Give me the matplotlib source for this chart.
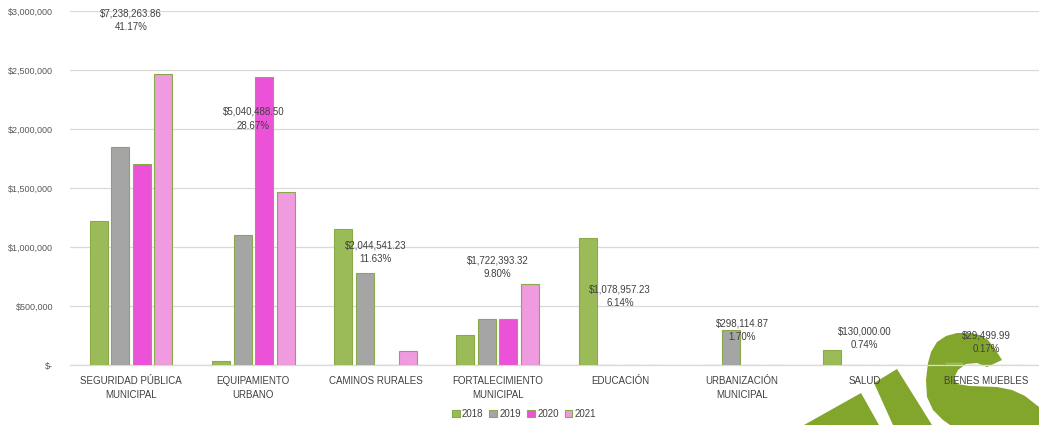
import matplotlib
matplotlib.use("Agg")
import matplotlib.pyplot as plt
from matplotlib.patches import Polygon
from matplotlib.ticker import FuncFormatter
from matplotlib import font_manager
import numpy as np

plt.rcParams['font.family'] = ['Liberation Sans', 'DejaVu Sans']

categories = ["SEGURIDAD PÚBLICA\nMUNICIPAL", "EQUIPAMIENTO\nURBANO", "CAMINOS RURALES",
              "FORTALECIMIENTO\nMUNICIPAL", "EDUCACIÓN", "URBANIZACIÓN\nMUNICIPAL",
              "SALUD", "BIENES MUEBLES"]
years = ["2018", "2019", "2020", "2021"]
v2018 = [1220000, 34000, 1150000, 257000, 1078957.23, 0, 130000, 29499.99]
v2019 = [1847000, 1102000, 777000, 390000, 0, 298114.87, 0, 0]
v2020 = [1703000, 2441000, 0, 390000, 0, 0, 0, 0]
v2021 = [2468264, 1463488, 117541, 685393, 0, 0, 0, 0]
totals = [7238263.86, 5040488.50, 2044541.23, 1722393.32, 1078957.23, 298114.87, 130000.00, 29499.99]
label_y = [2924000, 2087000, 953000, 828000, 582000, 292000, 226000, 189000]
yticks = [0, 500000, 1000000, 1500000, 2000000, 2500000, 3000000]

colors = ["#9BBB59", "#A5A5A5", "#EB52D7", "#F09BE0"]
edge = "#8AAA4A"
W, H = 1039, 425
fig = plt.figure(figsize=(W / 100, H / 100), dpi=100)

# decorative logo (behind chart)
def px(pts):
    return [(x / W, 1 - y / H) for x, y in pts]

logo_col = "#82A52C"
shapes = [
    [(804, 425), (861, 393), (879, 425)],
    [(874, 383), (897, 369), (932, 425), (893, 425)],
    [(950, 425), (943, 420), (933, 410), (927, 397), (926, 380), (928, 363), (931, 352),
     (937, 342), (946, 336), (957, 333), (970, 333), (980, 335), (988, 340), (995, 349),
     (1002, 360), (987, 367), (977, 363), (966, 364), (958, 370), (954, 378), (957, 384),
     (970, 386), (997, 387), (1012, 390), (1025, 396), (1039, 407), (1039, 425)],
]
for s in shapes:
    fig.patches.append(Polygon(px(s), closed=True, transform=fig.transFigure,
                               facecolor=logo_col, edgecolor='none', zorder=0))

ax = fig.add_axes([70 / W, (H - 365) / H, 8 * 122.2 / W, 354 / H])
ax.patch.set_alpha(0)
ax.set_zorder(1)

series = [v2018, v2019, v2020, v2021]
x = np.arange(len(categories))
step = 0.176
bw = 0.147
for i, (vals, c, yr) in enumerate(zip(series, colors, years)):
    ax.bar(x + (i - 1.5) * step, vals, width=bw, color=c, edgecolor=edge,
           linewidth=0.8, label=yr, zorder=3)

grand = sum(totals)
for xi, t, ly in zip(x, totals, label_y):
    ax.text(xi, ly, f"${t:,.2f}\n{t / grand * 100:.2f}%", ha='center', va='center',
            fontsize=7, color='#404040', linespacing=1.45, zorder=4)

ax.set_xlim(-0.5, 7.5)
ax.set_ylim(0, 3000000)
ax.set_yticks(yticks)
ax.yaxis.set_major_formatter(FuncFormatter(lambda v, p: "$-" if v == 0 else f"${v:,.0f}"))
ax.grid(axis='y', color='#D9D9D9', linewidth=0.9, zorder=0)
ax.set_axisbelow(True)
for sp in ['top', 'right', 'left']:
    ax.spines[sp].set_visible(False)
ax.spines['bottom'].set_color('#D9D9D9')
ax.spines['bottom'].set_linewidth(0.9)

narrow_ok = any('Liberation Sans Narrow' == f.name for f in font_manager.fontManager.ttflist)
if narrow_ok:
    ax.tick_params(axis='y', length=0, labelsize=7.2, labelcolor='#595959', pad=12)
    for lab in ax.get_yticklabels():
        lab.set_family(['Liberation Sans Narrow', 'Liberation Sans'])
else:
    ax.tick_params(axis='y', length=0, labelsize=6.5, labelcolor='#595959', pad=12)
ax.tick_params(axis='x', length=0, labelsize=7, labelcolor='#404040', pad=8)
ax.set_xticks(x)
ax.set_xticklabels(categories, linespacing=1.45)

fig.legend(loc='center', bbox_to_anchor=(524 / W, 1 - 414 / H), ncol=4, frameon=False,
           fontsize=7, handlelength=0.8, handleheight=0.8, handletextpad=0.25,
           columnspacing=0.6, labelcolor='#404040')

fig.savefig("out.png", dpi=100)
